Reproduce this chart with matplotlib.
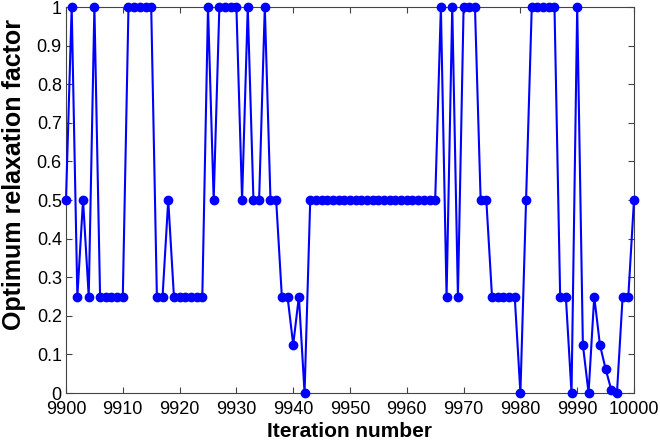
import matplotlib
matplotlib.use("Agg")
import matplotlib.pyplot as plt
import numpy as np

plt.rcParams['font.family'] = ['Liberation Sans', 'DejaVu Sans']

iterations = np.arange(9900, 10001)
relax = [
    0.5, 1, 0.25, 0.5, 0.25, 1, 0.25, 0.25, 0.25, 0.25,        # 9900-9909
    0.25, 1, 1, 1, 1, 1, 0.25, 0.25, 0.5, 0.25,                # 9910-9919
    0.25, 0.25, 0.25, 0.25, 0.25, 1, 0.5, 1, 1, 1,             # 9920-9929
    1, 0.5, 1, 0.5, 0.5, 1, 0.5, 0.5, 0.25, 0.25,              # 9930-9939
    0.125, 0.25, 0, 0.5, 0.5, 0.5, 0.5, 0.5, 0.5, 0.5,         # 9940-9949
    0.5, 0.5, 0.5, 0.5, 0.5, 0.5, 0.5, 0.5, 0.5, 0.5,          # 9950-9959
    0.5, 0.5, 0.5, 0.5, 0.5, 0.5, 1, 0.25, 1, 0.25,            # 9960-9969
    1, 1, 1, 0.5, 0.5, 0.25, 0.25, 0.25, 0.25, 0.25,           # 9970-9979
    0, 0.5, 1, 1, 1, 1, 1, 0.25, 0.25, 0,                      # 9980-9989
    1, 0.125, 0, 0.25, 0.125, 0.0625, 0.008, 0, 0.25, 0.25,    # 9990-9999
    0.5,                                                       # 10000
]

xticks = np.arange(9900, 10001, 10)
yticks = np.round(np.arange(0, 1.01, 0.1), 1)
ytick_labels = ['0', '0.1', '0.2', '0.3', '0.4', '0.5', '0.6', '0.7', '0.8', '0.9', '1']

fig = plt.figure(figsize=(6.6, 4.47), dpi=100)
ax = fig.add_axes([0.1, 0.1208, 0.8606, 0.8635])

ax.plot(iterations, relax, color='#0000ff', lw=1.5, marker='o', ms=6, clip_on=False, zorder=3)

ax.set_xlim(9900, 10000)
ax.set_ylim(0, 1)
ax.set_xticks(xticks)
ax.set_yticks(yticks)
ax.set_yticklabels(ytick_labels)
ax.tick_params(direction='in', top=True, right=True, length=4, width=0.8,
               color='#444444', labelsize=13)
ax.tick_params(axis='x', pad=6)
ax.tick_params(axis='y', pad=3)
for s in ax.spines.values():
    s.set_color('#444444')
    s.set_linewidth(0.8)

ax.set_xlabel('Iteration number', fontsize=15, fontweight='bold')
ax.set_ylabel('Optimum relaxation factor', fontsize=18, fontweight='bold')
ax.xaxis.set_label_coords(0.5, -0.076)
ax.yaxis.set_label_coords(-0.07, 0.567)

fig.savefig('out.png', dpi=100)
